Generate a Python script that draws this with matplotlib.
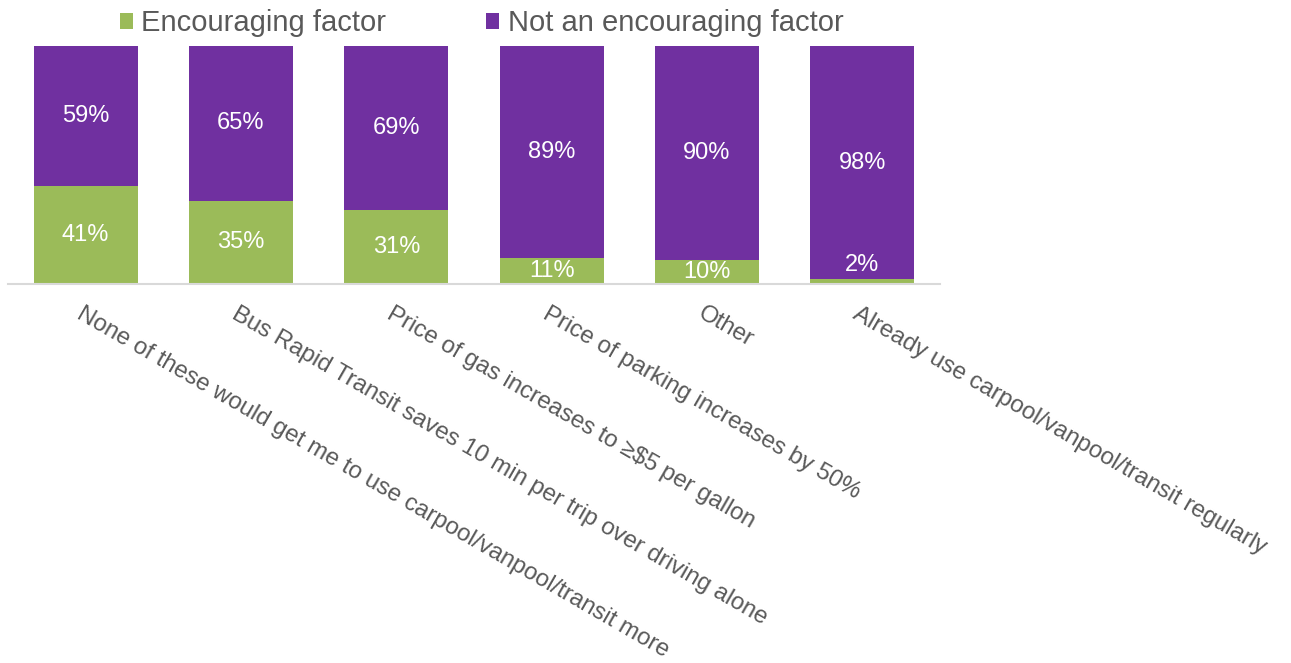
import numpy as np
import matplotlib.pyplot as plt
import matplotlib.transforms as mtransforms

plt.rcParams['font.family'] = ['Liberation Sans', 'DejaVu Sans']

# 数据
categories = ['None of these would get me to use carpool/vanpool/transit more',
              'Bus Rapid Transit saves 10 min per trip over driving alone',
              'Price of gas increases to \u2265$5 per gallon',
              'Price of parking increases by 50%',
              'Other',
              'Already use carpool/vanpool/transit regularly']
encouraging = [41, 35, 31, 11, 10, 2]
not_encouraging = [59, 65, 69, 89, 90, 98]
series_names = ['Encouraging factor', 'Not an encouraging factor']

green = '#9BBB59'
purple = '#7030A0'
gray_text = '#595959'

fig = plt.figure(figsize=(12.91, 6.63), dpi=100)
ax = fig.add_axes([8/1291, (663-284)/663, (940-8)/1291, (284-46)/663])

x = np.arange(len(categories))
w = 0.67
b1 = ax.bar(x, encouraging, w, color=green, label=series_names[0])
b2 = ax.bar(x, not_encouraging, w, bottom=encouraging, color=purple, label=series_names[1])

# 数据标签
for i in range(len(x)):
    e = encouraging[i]
    n = not_encouraging[i]
    ye = e / 2 if e >= 5 else e + 6
    ax.text(x[i], ye, f'{e}%', ha='center', va='center', color='white', fontsize=17)
    ax.text(x[i], e + n / 2, f'{n}%', ha='center', va='center', color='white', fontsize=17)

ax.set_xlim(-0.5, len(x) - 0.5)
ax.set_ylim(0, 100)
ax.set_yticks([])
ax.set_xticks(x)
ax.set_xticklabels(categories, rotation=-30, ha='left', va='top',
                   rotation_mode='anchor', fontsize=17.3, color=gray_text)
ax.tick_params(axis='x', length=0, pad=13.5)
offset = mtransforms.ScaledTranslation(-2/100, 0, fig.dpi_scale_trans)
for lab in ax.get_xticklabels():
    lab.set_transform(lab.get_transform() + offset)

for s in ['top', 'right', 'left']:
    ax.spines[s].set_visible(False)
ax.spines['bottom'].set_color('#D9D9D9')
ax.spines['bottom'].set_linewidth(1.5)

leg = ax.legend(loc='lower center', bbox_to_anchor=(0.508, 0.975), ncol=2, frameon=False,
                fontsize=21, handlelength=0.45, handleheight=0.45, handletextpad=0.3,
                columnspacing=3.4, borderaxespad=0.1)
for t in leg.get_texts():
    t.set_color(gray_text)

fig.savefig('out.png', dpi=100)
